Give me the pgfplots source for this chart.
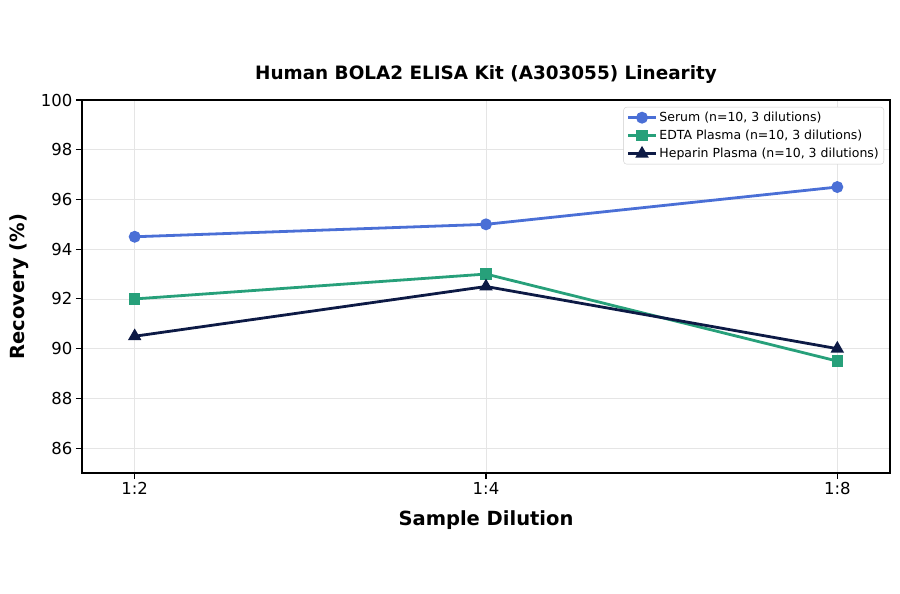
\documentclass[border=0pt]{standalone}
\usepackage{pgfplots}
\pgfplotsset{compat=1.18}
\usepackage{fontspec}
\setmainfont{DejaVu Sans}
\definecolor{serum}{HTML}{4A6FD6}
\definecolor{edta}{HTML}{27A07A}
\definecolor{hep}{HTML}{0D1A45}
\begin{document}
\begin{tikzpicture}
\path[use as bounding box] (-82pt,-121pt) rectangle (818pt,473pt);
\begin{axis}[
  at={(0,0)}, anchor=south west,
  width=808pt, height=373pt, scale only axis,
  xmin=-0.15, xmax=2.15, ymin=85, ymax=100,
  xtick={0,1,2}, xticklabels={1:2,1:4,1:8},
  ytick={86,88,...,100},
  /pgf/number format/assume math mode=true,
  tick label style={font=\fontsize{16.5}{19}\selectfont},
  grid=major, grid style={gray!20, line width=0.6pt},
  axis line style={line width=1.3pt},
  tick style={black, line width=1.1pt},
  tick align=outside, tick pos=left,
  major tick length=6pt,
  title={\bfseries Human BOLA2 ELISA Kit (A303055) Linearity},
  title style={font=\fontsize{18.4}{21}\selectfont, yshift=7pt},
  xlabel={\bfseries Sample Dilution},
  ylabel={\bfseries Recovery (\%)},
  xlabel style={yshift=-9pt},
  ylabel style={yshift=5pt},
  label style={font=\fontsize{19.5}{22}\selectfont},
  legend style={at={(1,1)}, anchor=north east, xshift=-6pt, yshift=-7pt,
    font=\fontsize{12.5}{15}\selectfont, draw=gray!40, rounded corners=3pt, inner sep=3pt, row sep=3pt},
  legend cell align=left,
  legend image code/.code={\draw[mark repeat=2, mark phase=2] plot coordinates {(0pt,0pt) (14pt,0pt) (28pt,0pt)};},
]
\addplot[serum, line width=2.8pt, mark=*, mark size=4.5pt] coordinates {(0,94.5) (1,95.0) (2,96.5)};
\addlegendentry{Serum (n=10, 3 dilutions)}
\addplot[edta, line width=2.8pt, mark=square*, mark size=4.2pt] coordinates {(0,92.0) (1,93.0) (2,89.5)};
\addlegendentry{EDTA Plasma (n=10, 3 dilutions)}
\addplot[hep, line width=2.8pt, mark=triangle*, mark size=5pt] coordinates {(0,90.5) (1,92.5) (2,90.0)};
\addlegendentry{Heparin Plasma (n=10, 3 dilutions)}
\end{axis}
\end{tikzpicture}
\end{document}
